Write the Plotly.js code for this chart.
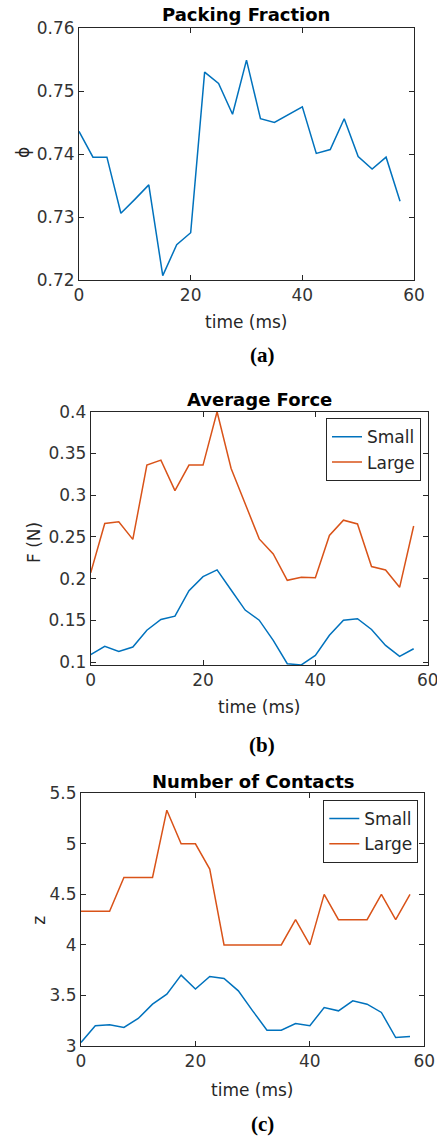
<!DOCTYPE html>
<html>
<head>
<meta charset="utf-8">
<script src="https://cdn.plot.ly/plotly-3.0.1.min.js"></script>
<style>
  html, body { margin: 0; padding: 0; background: #ffffff; }
  #chart { width: 437px; height: 1136px; }
</style>
</head>
<body>
<div id="chart"></div>
<script>
// ---------- data ----------
const time = [0, 2.5, 5, 7.5, 10, 12.5, 15, 17.5, 20, 22.5, 25, 27.5, 30, 32.5, 35, 37.5, 40, 42.5, 45, 47.5, 50, 52.5, 55, 57.5];

const packingFraction = [0.7436, 0.7395, 0.7395, 0.7306, 0.7328, 0.7351, 0.7207, 0.7256, 0.7275, 0.7530, 0.7512, 0.7463,
                         0.7549, 0.7456, 0.7450, 0.7463, 0.7475, 0.7401, 0.7407, 0.7456, 0.7396, 0.7376, 0.7395, 0.7325];

const forceSmall = [0.1088, 0.1189, 0.1128, 0.1180, 0.1382, 0.1510, 0.1550, 0.1855, 0.2024, 0.2104, 0.1863, 0.1623,
                    0.1502, 0.1261, 0.0980, 0.0966, 0.1080, 0.1321, 0.1502, 0.1520, 0.1390, 0.1200, 0.1068, 0.1160];
const forceLarge = [0.2070, 0.2660, 0.2680, 0.2470, 0.3360, 0.3420, 0.3055, 0.3360, 0.3360, 0.4000, 0.3320, 0.2897,
                    0.2476, 0.2296, 0.1980, 0.2015, 0.2010, 0.2518, 0.2700, 0.2655, 0.2145, 0.2104, 0.1896, 0.2630];

const contactsSmall = [3.035, 3.200, 3.210, 3.183, 3.272, 3.414, 3.513, 3.701, 3.563, 3.688, 3.668, 3.546,
                       3.348, 3.157, 3.157, 3.223, 3.200, 3.381, 3.348, 3.447, 3.414, 3.332, 3.084, 3.094];
const contactsLarge = [4.333, 4.333, 4.333, 4.667, 4.667, 4.667, 5.333, 5.000, 5.000, 4.750, 4.000, 4.000,
                       4.000, 4.000, 4.000, 4.250, 4.000, 4.500, 4.250, 4.250, 4.250, 4.500, 4.250, 4.500];

const seriesNames = ["Small", "Large"];
const panelTitles = ["Packing Fraction", "Average Force", "Number of Contacts"];
const yTitles = ["ϕ", "F (N)", "z"];
const xTitle = "time (ms)";
const captions = ["(a)", "(b)", "(c)"];

// ---------- layout helpers ----------
const W = 437, H = 1136;
const px = x => x / W;
const py = y => 1 - y / H;

const BLUE = "#0072BD", ORANGE = "#D95319";
const AX = "#262626";
const FONT = "DejaVu Sans, Arial, sans-serif";
const TICKF = { family: FONT, size: 17, color: "#333333" };

function axisBase(extra) {
  return Object.assign({
    showline: true, mirror: "ticks", linecolor: AX, linewidth: 1,
    ticks: "inside", ticklen: 5, tickwidth: 1, tickcolor: AX,
    showgrid: false, zeroline: false, tickfont: TICKF, fixedrange: true,
    ticklabeloverflow: "allow"
  }, extra);
}

const traces = [
  { x: time, y: packingFraction, xaxis: "x", yaxis: "y", type: "scatter", mode: "lines",
    line: { color: BLUE, width: 1.5 }, showlegend: false },
  { x: time, y: forceSmall, xaxis: "x2", yaxis: "y2", type: "scatter", mode: "lines", name: seriesNames[0],
    line: { color: BLUE, width: 1.5 }, legend: "legend" },
  { x: time, y: forceLarge, xaxis: "x2", yaxis: "y2", type: "scatter", mode: "lines", name: seriesNames[1],
    line: { color: ORANGE, width: 1.5 }, legend: "legend" },
  { x: time, y: contactsSmall, xaxis: "x3", yaxis: "y3", type: "scatter", mode: "lines", name: seriesNames[0],
    line: { color: BLUE, width: 1.5 }, legend: "legend2" },
  { x: time, y: contactsLarge, xaxis: "x3", yaxis: "y3", type: "scatter", mode: "lines", name: seriesNames[1],
    line: { color: ORANGE, width: 1.5 }, legend: "legend2" }
];

// plot areas in pixels [left, right, top, bottom]
const boxes = [
  [79, 414, 28, 280],
  [90.7, 427.7, 411.7, 665],
  [81, 424.3, 793.3, 1046]
];

function dom(b) { return { x: [px(b[0]), px(b[1])], y: [py(b[3]), py(b[2])] }; }
const d1 = dom(boxes[0]), d2 = dom(boxes[1]), d3 = dom(boxes[2]);

const legendStyle = {
  xanchor: "right", yanchor: "top", bgcolor: "#ffffff",
  bordercolor: AX, borderwidth: 1,
  font: { family: FONT, size: 17, color: "#262626" },
  tracegroupgap: 0, itemwidth: 30
};

function ann(text, x, y, opts) {
  return Object.assign({
    text: text, xref: "paper", yref: "paper", x: px(x), y: py(y),
    xanchor: "center", yanchor: "middle", showarrow: false,
    font: { family: FONT, size: 17, color: "#262626" }
  }, opts || {});
}

const titleFont = { family: FONT, size: 18, color: "#000000", weight: "bold" };
const capFont = { family: "Liberation Serif, Times New Roman, serif", size: 21, color: "#000000", weight: "bold" };

const layout = {
  width: W, height: H,
  margin: { l: 0, r: 0, t: 0, b: 0 },
  paper_bgcolor: "#ffffff", plot_bgcolor: "#ffffff",
  xaxis:  axisBase({ domain: d1.x, anchor: "y",  range: [0, 60], dtick: 20, tick0: 0 }),
  yaxis:  axisBase({ domain: d1.y, anchor: "x",  range: [0.72, 0.76], dtick: 0.01, tick0: 0.72 }),
  xaxis2: axisBase({ domain: d2.x, anchor: "y2", range: [0, 60], dtick: 20, tick0: 0 }),
  yaxis2: axisBase({ domain: d2.y, anchor: "x2", range: [0.0965, 0.4], dtick: 0.05, tick0: 0 }),
  xaxis3: axisBase({ domain: d3.x, anchor: "y3", range: [0, 60], dtick: 20, tick0: 0 }),
  yaxis3: axisBase({ domain: d3.y, anchor: "x3", range: [3, 5.5], dtick: 0.5, tick0: 3 }),
  legend:  Object.assign({ x: px(421),   y: py(418.3) }, legendStyle),
  legend2: Object.assign({ x: px(418.3), y: py(800) }, legendStyle),
  annotations: [
    ann(panelTitles[0], 246.2, 15, { font: titleFont }),
    ann(panelTitles[1], 259.2, 399, { font: titleFont }),
    ann(panelTitles[2], 253, 781, { font: titleFont }),
    ann(xTitle, 246.7, 322.5),
    ann(xTitle, 259, 706.7),
    ann(xTitle, 252.8, 1090),
    ann(yTitles[0], 23, 153, { textangle: -90 }),
    ann(yTitles[1], 34.7, 542.3, { textangle: -90 }),
    ann(yTitles[2], 38.3, 920.5, { textangle: -90 }),
    ann(captions[0], 262.5, 355, { font: capFont }),
    ann(captions[1], 261.7, 745, { font: capFont }),
    ann(captions[2], 262.5, 1124, { font: capFont })
  ]
};

Plotly.newPlot("chart", traces, layout, { displayModeBar: false, staticPlot: true });
</script>
</body>
</html>
